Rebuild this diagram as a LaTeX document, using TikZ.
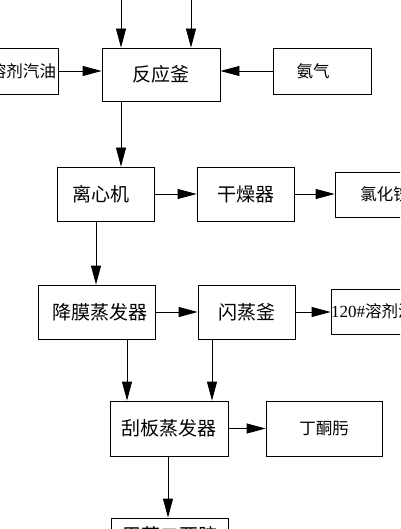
\documentclass[tikz,border=0pt]{standalone}
\usepackage{fontspec}
\setmainfont{Liberation Serif}
\newfontfamily\cjk{Noto Sans CJK SC}
\usetikzlibrary{arrows.meta}
\tikzset{
  box/.style={draw=black, line width=0.8pt, inner sep=0pt, font=\cjk\fontsize{19}{19}\selectfont},
  sbox/.style={box, font=\cjk\fontsize{16.5}{16.5}\selectfont},
  arr/.style={draw=black, line width=0.8pt, -{Triangle[length=19pt,width=10pt]}},
}
\begin{document}
\begin{tikzpicture}[x=1pt,y=-1pt]
\useasboundingbox (0,0) rectangle (400,529);
\fill[white] (0,0) rectangle (400,529);
\clip (0,0) rectangle (400,529);
% nodes
\node[box, minimum width=118pt, minimum height=53pt] (rx) at (161,74.5) {反应釜};
\node[sbox, minimum width=70pt, minimum height=46pt] (gas) at (23,71) {溶剂汽油};
\node[sbox, minimum width=98pt, minimum height=46pt] (nh3) at (322,71) {\hspace*{-18pt}氨气};
\node[box, minimum width=97pt, minimum height=54pt] (cf) at (105.5,194) {\hspace*{-10pt}离心机};
\node[box, minimum width=97pt, minimum height=54pt] (dry) at (245.5,194) {干燥器};
\node[sbox, minimum width=100pt, minimum height=45pt] (nh4cl) at (385,194.5) {氯化铵};
\node[box, minimum width=117pt, minimum height=54pt] (ff) at (96.5,312) {\hspace*{6pt}降膜蒸发器};
\node[box, minimum width=97pt, minimum height=54pt] (fl) at (246.5,312) {闪蒸釜};
\node[sbox, minimum width=100pt, minimum height=45pt] (sol) at (381,311.5) {{\rmfamily\fontsize{17}{17}\selectfont 120\#}溶剂汽油};
\node[box, minimum width=118pt, minimum height=55pt] (wf) at (169,428.5) {刮板蒸发器};
\node[sbox, minimum width=116pt, minimum height=55pt] (mek) at (324,428.5) {丁酮肟};
\node[box, minimum width=117pt, minimum height=34pt] (bot) at (169.5,535) {甲苯二亚胺};
% free ends above
\coordinate (in1) at (121,-5);
\coordinate (in2) at (191,-5);
% connectors
\draw[arr] (in1) -- (in1 |- rx.north);
\draw[arr] (in2) -- (in2 |- rx.north);
\draw[arr] (gas.east) -- (gas.east -| rx.west);
\draw[arr] (nh3.west) -- (nh3.west -| rx.east);
\draw[arr] ([xshift=-40pt]rx.south) -- ([xshift=-40pt]rx.south |- cf.north);
\draw[arr] (cf.east) -- (dry.west);
\draw[arr] (dry.east) -- (dry.east -| nh4cl.west);
\draw[arr] ([xshift=-9.5pt]cf.south) -- ([xshift=-9.5pt]cf.south |- ff.north);
\draw[arr] (ff.east) -- (fl.west);
\draw[arr] (fl.east) -- (fl.east -| sol.west);
\draw[arr] ([xshift=30.5pt]ff.south) -- ([xshift=30.5pt]ff.south |- wf.north);
\draw[arr] ([xshift=-34.5pt]fl.south) -- ([xshift=-34.5pt]fl.south |- wf.north);
\draw[arr] (wf.east) -- (mek.west);
\draw[arr] ([xshift=-1pt]wf.south) -- ([xshift=-1pt]wf.south |- bot.north);
\end{tikzpicture}
\end{document}
